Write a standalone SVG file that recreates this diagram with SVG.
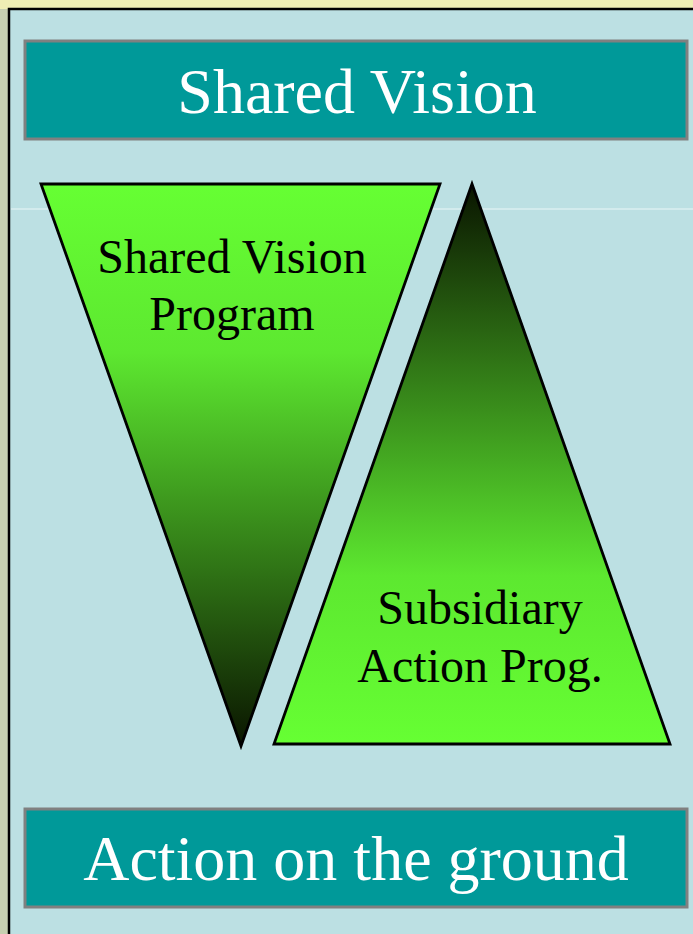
<svg xmlns="http://www.w3.org/2000/svg" width="693" height="934" viewBox="0 0 693 934">
  <defs>
    <linearGradient id="gDown" x1="0" y1="0" x2="0" y2="1">
      <stop offset="0" stop-color="#66FF33"/>
      <stop offset="0.3" stop-color="#5DE830"/>
      <stop offset="1" stop-color="#0A1500"/>
    </linearGradient>
    <linearGradient id="gUp" x1="0" y1="1" x2="0" y2="0">
      <stop offset="0" stop-color="#66FF33"/>
      <stop offset="0.3" stop-color="#5DE830"/>
      <stop offset="1" stop-color="#0A1500"/>
    </linearGradient>
    <style>
      .box { fill: #009999; stroke: #808080; stroke-width: 3; }
      .boxText { font-family: "Liberation Serif", "Times New Roman", serif; font-size: 64px; fill: #FFFFFF; text-anchor: middle; }
      .tri { stroke: #000000; stroke-width: 2.8; stroke-linejoin: miter; }
      .triText { font-family: "Liberation Serif", "Times New Roman", serif; font-size: 48px; fill: #000000; text-anchor: middle; }
    </style>
  </defs>
  <rect x="0" y="0" width="693" height="934" fill="#C6CFB0"/>
  <rect x="0" y="0" width="693" height="9" fill="#EEEEB4"/>
  <rect x="9" y="9" width="690" height="930" fill="#BCE0E3" stroke="#000000" stroke-width="2.5"/>
  <line x1="11" y1="209" x2="693" y2="209" stroke="#FFFFFF" stroke-opacity="0.7" stroke-width="1"/>

  <g id="shared-vision">
    <rect class="box" x="25" y="41" width="662" height="98"/>
    <text class="boxText" x="357" y="113">Shared Vision</text>
  </g>

  <g id="shared-vision-program">
    <polygon class="tri" fill="url(#gDown)" points="41,184 440,184 241,746"/>
    <text class="triText" x="232" y="273">Shared Vision</text>
    <text class="triText" x="232" y="330">Program</text>
  </g>

  <g id="subsidiary-action-prog">
    <polygon class="tri" fill="url(#gUp)" points="472,184 670,744 274,744"/>
    <text class="triText" x="480" y="624">Subsidiary</text>
    <text class="triText" x="480" y="682">Action Prog.</text>
  </g>

  <g id="action-on-the-ground">
    <rect class="box" x="25" y="809" width="662" height="98"/>
    <text class="boxText" x="356" y="880">Action on the ground</text>
  </g>

  <g id="connectors"/>
</svg>
